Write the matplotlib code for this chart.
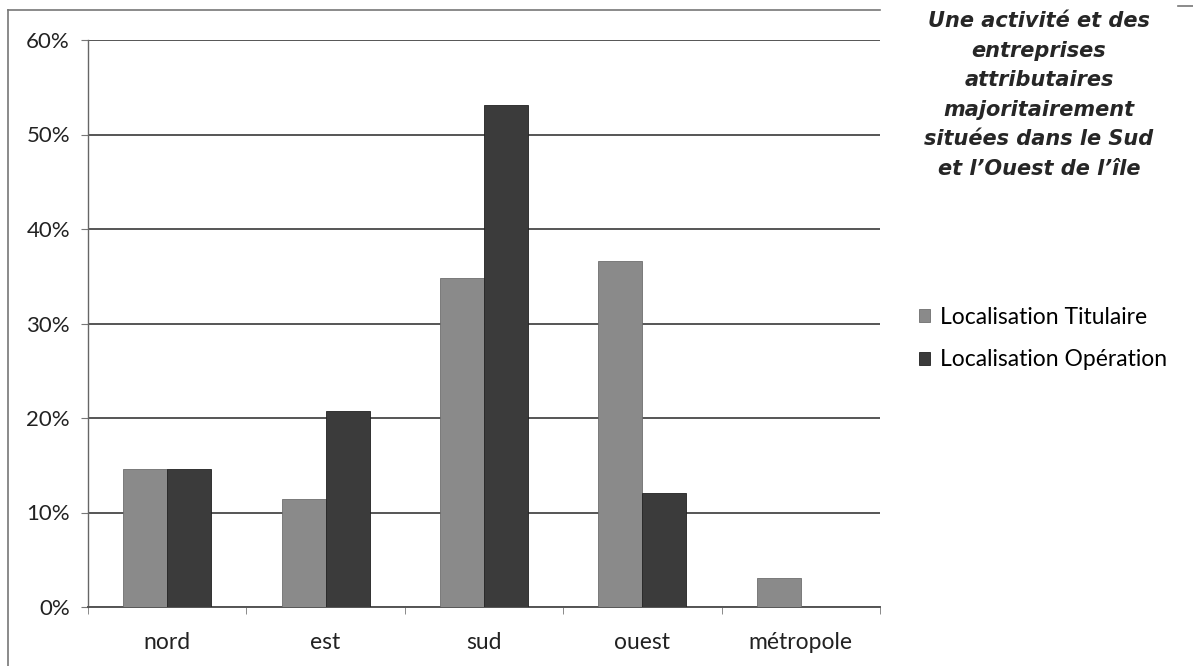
import matplotlib
matplotlib.use("Agg")
import matplotlib.pyplot as plt
import numpy as np
from matplotlib.lines import Line2D

categories = ["nord", "est", "sud", "ouest", "métropole"]
titulaire = [14.6, 11.4, 34.8, 36.6, 3.1]
operation = [14.6, 20.7, 53.1, 12.1, 0.0]
series_names = ["Localisation Titulaire", "Localisation Opération"]
yticks = [0, 10, 20, 30, 40, 50, 60]
title = ("Une activité et des\nentreprises\nattributaires\nmajoritairement\n"
         "situées dans le Sud\net l\u2019Ouest de l\u2019île")

light = "#8a8a8a"
dark = "#3b3b3b"
grid_col = "#555555"
label_font = "Lato"

fig = plt.figure(figsize=(11.93, 6.66), dpi=100)
ax = fig.add_axes([88 / 1193, 59 / 666, (880 - 88) / 1193, (607 - 40) / 666])

x = np.arange(len(categories))
w = 0.278
ax.bar(x - w / 2, titulaire, w, color=light, edgecolor="#6e6e6e", linewidth=0.6,
       label=series_names[0], zorder=3)
ax.bar(x + w / 2, operation, w, color=dark, edgecolor="#222222", linewidth=0.6,
       label=series_names[1], zorder=3)

ax.set_xlim(-0.5, len(categories) - 0.5)
ax.set_ylim(0, 60)
ax.set_yticks(yticks)
ax.set_yticklabels([f"{v}%" for v in yticks], fontsize=16, family=label_font,
                   color="#222222")
ax.yaxis.grid(True, color=grid_col, linewidth=1.4, zorder=0)
ax.set_axisbelow(True)

ax.set_xticks(x)
ax.set_xticklabels(categories, fontsize=16.5, family=label_font, color="#222222")
ax.tick_params(axis="x", length=0, pad=18)
ax.set_xticks(np.arange(-0.5, len(categories)), minor=True)
ax.tick_params(axis="x", which="minor", length=5, direction="out", color="#777777")
ax.tick_params(axis="y", length=5, direction="out", color="#777777", pad=8)

for s in ["top", "right"]:
    ax.spines[s].set_visible(False)
ax.spines["left"].set_color("#666666")
ax.spines["left"].set_linewidth(1.0)
ax.spines["bottom"].set_color(grid_col)
ax.spines["bottom"].set_linewidth(1.4)

# outer chart frame
frame = dict(color="#777777", linewidth=1.2, transform=fig.transFigure, clip_on=False)
fig.add_artist(Line2D([8 / 1193, 8 / 1193], [0, 1 - 10 / 666], **frame))
fig.add_artist(Line2D([8 / 1193, 880 / 1193], [1 - 10 / 666, 1 - 10 / 666], **frame))
fig.add_artist(Line2D([1178 / 1193, 1], [1 - 6 / 666, 1 - 6 / 666], **frame))

fig.text(1039 / 1193, 1 - 11 / 666, title, ha="center", va="top", fontsize=15,
         fontweight="bold", style="italic", family="DejaVu Sans", color="#262626",
         linespacing=1.6)

fig.legend(loc="upper left", bbox_to_anchor=(898 / 1193, 1 - 286 / 666),
           frameon=False, prop={"family": label_font, "size": 16.5},
           handlelength=0.5, handleheight=0.5, handletextpad=0.45, labelspacing=0.95)

fig.savefig("out.png", dpi=100, facecolor="white")
